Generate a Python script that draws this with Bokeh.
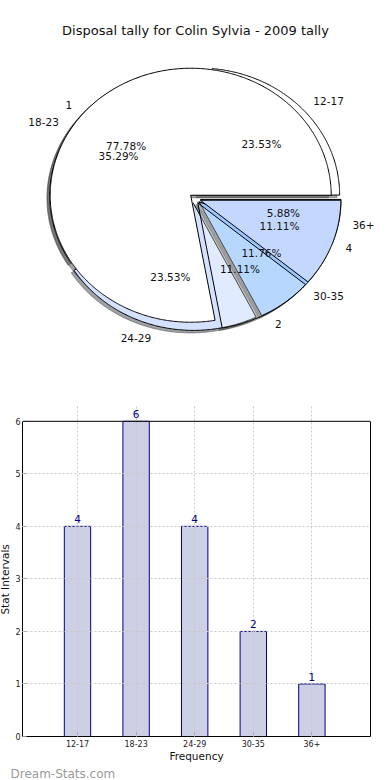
import numpy as np
from bokeh.plotting import figure
from bokeh.models import (ColumnDataSource, Range1d, Label, LabelSet, FixedTicker,
                          Span, LinearAxis, Title)
from bokeh.layouts import column, row
from bokeh.embed import file_html
from bokeh.resources import INLINE
from bokeh.core.properties import value

# ---------------- data ----------------
chart_title = "Disposal tally for Colin Sylvia - 2009 tally"
age_groups = ["12-17", "18-23", "24-29", "30-35", "36+"]
age_counts = [4, 6, 4, 2, 1]
tally_values = ["1", "2", "4"]
tally_counts = [7, 1, 1]
bar_values = [4, 6, 4, 2, 1]
y_ticks = [0, 1, 2, 3, 4, 5, 6]
x_axis_label = "Frequency"
y_axis_label = "Stat Intervals"
watermark = "Dream-Stats.com"

# ---------------- styles ----------------
FONT = "DejaVu Sans"
age_fill = ["#ffffff", "#ffffff", "#d4e2ff", "#9ac6ff", "#c4d8ff"]
age_alpha = [1.0, 1.0, 1.0, 1.0, 1.0]
tally_fill = ["#ffffff", "#ffffff", "#c4d8ff"]
tally_alpha = [1.0, 0.3, 1.0]
BAR_FILL = "#cdcfe4"
BAR_LINE = "#000080"

W = 390
H1 = 400
H2 = 380
LW = 10                     # width of the strip that carries the y-axis title
RX, RY = 140.5, 127.0      # pixels per unit radius (elliptical pie)
CX, CY = 194.5, 198.0      # pie centre in canvas pixels
EXPLODE = 0.04
SHADOW = 0.02


def pie_geometry(counts, explode, npts=720):
    c = np.asarray(counts, float)
    frac = c / c.sum()
    bounds = np.concatenate([[0.0], np.cumsum(frac)]) * 2 * np.pi
    xs, ys, mids, offs = [], [], [], []
    for a0, a1 in zip(bounds[:-1], bounds[1:]):
        m = 0.5 * (a0 + a1)
        ox, oy = explode * np.cos(m), explode * np.sin(m)
        n = max(4, int(npts * (a1 - a0) / (2 * np.pi))) + 1
        t = np.linspace(a0, a1, n)
        xs.append(np.concatenate([[ox], ox + np.cos(t), [ox]]))
        ys.append(np.concatenate([[oy], oy + np.sin(t), [oy]]))
        mids.append(m)
        offs.append((ox, oy))
    return xs, ys, np.array(mids), np.array(offs), frac


def darken(hexcol, rho=0.3):
    h = hexcol.lstrip("#")
    r, g, b = (int(h[i:i + 2], 16) for i in (0, 2, 4))
    return "#%02x%02x%02x" % (int(r * rho), int(g * rho), int(b * rho))


p1 = figure(width=W, height=H1,
            x_range=Range1d(-CX / RX, (W - CX) / RX),
            y_range=Range1d(-(H1 - CY) / RY, CY / RY),
            x_axis_type=None, y_axis_type=None,
            output_backend="svg", toolbar_location=None,
            min_border=0, outline_line_color=None)
p1.grid.visible = False

pies = [
    (age_groups, age_counts, age_fill, age_alpha),
    (tally_values, tally_counts, tally_fill, tally_alpha),
]
geo = [pie_geometry(cnt, EXPLODE) for (_, cnt, _, _) in pies]

# shadows (below all wedges)
sh_xs, sh_ys, sh_col = [], [], []
for (labels, cnt, fills, alphas), (xs, ys, mids, offs, frac) in zip(pies, geo):
    for x, y, f in zip(xs, ys, fills):
        sh_xs.append(x - SHADOW)
        sh_ys.append(y - SHADOW)
        sh_col.append(darken(f))
p1.patches(xs="xs", ys="ys", source=ColumnDataSource(dict(xs=sh_xs, ys=sh_ys, c=sh_col)),
           fill_color="c", fill_alpha=0.5, line_color="c", line_alpha=0.5, line_width=1)

# wedges
for (labels, cnt, fills, alphas), (xs, ys, mids, offs, frac) in zip(pies, geo):
    src = ColumnDataSource(dict(xs=xs, ys=ys, c=fills, a=alphas))
    p1.patches(xs="xs", ys="ys", source=src, fill_color="c", fill_alpha="a",
               line_color="black", line_width=1)

# texts
for (labels, cnt, fills, alphas), (xs, ys, mids, offs, frac) in zip(pies, geo):
    lx = offs[:, 0] + 1.1 * np.cos(mids)
    ly = offs[:, 1] + 1.1 * np.sin(mids)
    px = offs[:, 0] + 0.6 * np.cos(mids)
    py = offs[:, 1] + 0.6 * np.sin(mids)
    pct = ["%.2f%%" % (100 * f) for f in frac]
    right = lx > 0
    for mask, align in ((right, "left"), (~right, "right")):
        s = ColumnDataSource(dict(x=lx[mask], y=ly[mask],
                                  t=[l for l, k in zip(labels, mask) if k]))
        p1.text(x="x", y="y", text="t", source=s, text_align=align, text_baseline="middle",
                text_font=value(FONT), text_font_size=value("10.5px"), text_color="#111111")
    s = ColumnDataSource(dict(x=px, y=py, t=pct))
    p1.text(x="x", y="y", text="t", source=s, text_align="center", text_baseline="middle",
            text_font=value(FONT), text_font_size=value("10.5px"), text_color="#111111")

p1.add_layout(Label(x=(195 - CX) / RX, y=(CY - 30) / RY, text=chart_title,
                    text_align="center", text_baseline="middle",
                    text_font=FONT, text_font_size="13px", text_color="#111111"))

# ---------------- bar chart ----------------
F_TOP_REF, F_BOTTOM_REF = 421, 740          # frame edges of the reference (page px)
F_RIGHT_REF = 370
FIRST_BAR_REF = 77                          # centre of the first bar (page px)
F_LEFT_EST = 22                             # where Bokeh puts the frame's left edge
PXU = (F_BOTTOM_REF - F_TOP_REF) / max(y_ticks)
TOP_PAD_PX = 17                              # room above the top value label
B_TOP = F_TOP_REF - H1 - TOP_PAD_PX
B_BOTTOM = H1 + H2 - F_BOTTOM_REF
xpos = np.arange(len(age_groups))
x_unit = (F_RIGHT_REF - FIRST_BAR_REF) / len(age_groups)
bsrc = ColumnDataSource(dict(x=xpos, top=bar_values, label=[str(v) for v in bar_values]))

p2 = figure(width=W - LW, height=H2,
            x_range=Range1d(-(FIRST_BAR_REF - F_LEFT_EST) / x_unit, len(age_groups)),
            y_range=Range1d(0, max(y_ticks) + TOP_PAD_PX / PXU),
            output_backend="svg", toolbar_location=None,
            min_border_left=F_LEFT_EST - LW, min_border_right=W - F_RIGHT_REF,
            min_border_top=B_TOP, min_border_bottom=B_BOTTOM)
p2.outline_line_color = None
p2.vbar(x="x", top="top", width=0.45, source=bsrc, fill_color=BAR_FILL,
        line_color=BAR_LINE, line_width=1)
p2.add_layout(LabelSet(x="x", y="top", text="label", source=bsrc, y_offset=3,
                       text_align="center", text_baseline="bottom",
                       text_font=value(FONT), text_font_size="10.5px", text_color=BAR_LINE))

p2.xaxis.ticker = FixedTicker(ticks=[int(i) for i in xpos])
p2.xaxis.major_label_overrides = {int(i): g for i, g in zip(xpos, age_groups)}
p2.yaxis.ticker = FixedTicker(ticks=y_ticks)
p2.yaxis.bounds = (0, max(y_ticks))

right_axis = LinearAxis(ticker=FixedTicker(ticks=[]), bounds=(0, max(y_ticks)),
                        major_label_standoff=0, major_tick_in=0, major_tick_out=0,
                        minor_tick_line_color=None, axis_line_color="black")
p2.add_layout(right_axis, "right")

for ax in (p2.xaxis[0], p2.yaxis[0]):
    ax.major_label_text_font = FONT
    ax.major_tick_in = 4
    ax.major_tick_out = 0
    ax.major_tick_line_color = "#999999"
    ax.minor_tick_line_color = None
    ax.axis_line_color = "black"
    ax.major_label_text_font_size = "8px"
    ax.major_label_text_color = "#222222"
    ax.axis_label_text_font = FONT
    ax.axis_label_text_font_size = "10.5px"
    ax.axis_label_text_font_style = "normal"
    ax.axis_label_text_color = "#111111"
    ax.axis_label_standoff = 0
p2.xaxis[0].major_label_standoff = 3
p2.yaxis[0].major_label_standoff = 2
p2.xaxis[0].axis_label = x_axis_label

p2.add_layout(Span(location=max(y_ticks), dimension="width", line_color="black", line_width=1))

for g in (p2.xgrid, p2.ygrid):
    g.grid_line_color = "#c8c8c8"
    g.grid_line_dash = "2 2"
    g.grid_line_width = 1
    g.level = "annotation"
p2.xgrid.bounds = (0, max(y_ticks))

p2.add_layout(Title(text=watermark, align="left", offset=-(F_LEFT_EST - LW), standoff=0,
                    text_font=FONT, text_font_size="12px", text_font_style="normal",
                    text_color="#9a9a9a"), "below")

# strip carrying the y-axis title, left of the bar chart
lbl = figure(width=LW, height=H2, x_range=Range1d(0, 1), y_range=Range1d(0, 1),
             x_axis_type=None, y_axis_type=None, output_backend="svg",
             toolbar_location=None, min_border_left=0, min_border_right=0,
             min_border_top=B_TOP, min_border_bottom=B_BOTTOM, outline_line_color=None)
lbl.grid.visible = False
frame_h = H2 - B_TOP - B_BOTTOM
lbl.text(x=[0.45], y=[(F_BOTTOM_REF - 581) / frame_h], text=[y_axis_label], angle=np.pi / 2,
         text_align="center", text_baseline="middle", text_font=value(FONT),
         text_font_size=value("10.5px"), text_color="#111111")

layout = column(row(p1), row(lbl, p2))
open("out.html", "w").write(file_html(layout, INLINE))
